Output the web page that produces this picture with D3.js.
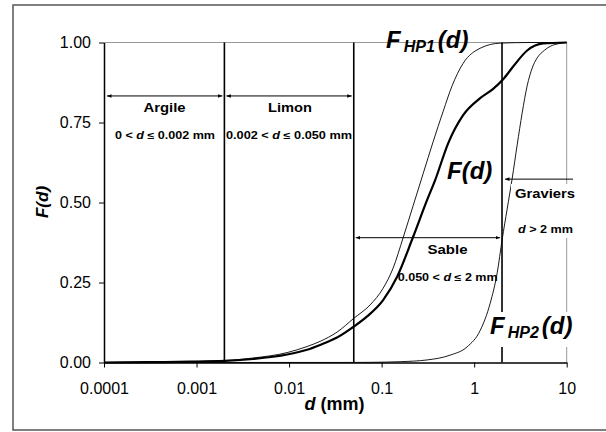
<!DOCTYPE html>
<html>
<head>
<meta charset="utf-8">
<script src="https://cdn.jsdelivr.net/npm/d3@7"></script>
<style>
  html, body { margin: 0; padding: 0; background: #fff; }
  svg { display: block; font-family: "Liberation Sans", Arial, sans-serif; }
</style>
</head>
<body>
<div id="chart"></div>
<script>
// ---- data ----
const xTicks = [0.0001, 0.001, 0.01, 0.1, 1, 10];
const xTickLabels = ["0.0001", "0.001", "0.01", "0.1", "1", "10"];
const yTicks = [0, 0.25, 0.5, 0.75, 1.0];
const yTickLabels = ["0.00", "0.25", "0.50", "0.75", "1.00"];

const classLimits = [0.002, 0.05, 2];

// F_HP1(d)
const hp1D = [0.0001, 0.000314, 0.00085, 0.002, 0.00408, 0.00952, 0.01565, 0.02163, 0.0330, 0.05, 0.0751, 0.1038, 0.1331, 0.1708, 0.2191, 0.2809, 0.3604, 0.4624, 0.5782, 0.7605, 1.161, 1.91, 4.03, 10];
const hp1F = [0, 0.001, 0.003, 0.006, 0.014, 0.031, 0.050, 0.066, 0.095, 0.138, 0.180, 0.232, 0.295, 0.390, 0.490, 0.590, 0.690, 0.785, 0.865, 0.935, 0.982, 0.998, 1.0, 1.0];

// F(d) measured
const fD = [0.0001, 0.000314, 0.00085, 0.002, 0.00408, 0.00952, 0.01565, 0.02163, 0.0330, 0.05, 0.0697, 0.1038, 0.1471, 0.2191, 0.3103, 0.3789, 0.5235, 0.7605, 1.161, 1.605, 2.059, 2.640, 3.741, 5.571, 10];
const fF = [0, 0.001, 0.0025, 0.005, 0.011, 0.025, 0.040, 0.055, 0.078, 0.112, 0.144, 0.195, 0.268, 0.393, 0.508, 0.570, 0.685, 0.773, 0.826, 0.855, 0.885, 0.925, 0.975, 0.997, 1.0];

// F_HP2(d)
const hp2D = [0.0001, 0.05, 0.0751, 0.1585, 0.3103, 0.5501, 0.84, 1.161, 1.489, 1.773, 2.008, 2.274, 2.575, 2.916, 3.303, 3.741, 4.236, 4.798, 5.712, 6.631, 8.09, 10];
const hp2F = [0, 0.0002, 0.0005, 0.0025, 0.008, 0.023, 0.049, 0.100, 0.185, 0.280, 0.385, 0.480, 0.575, 0.680, 0.780, 0.865, 0.920, 0.952, 0.975, 0.988, 0.996, 1.0];

// ---- layout ----
const W = 606, H = 432;
const plot = {left: 104, right: 566.7, top: 42.5, bottom: 362.5};

const svg = d3.select("#chart").append("svg").attr("width", W).attr("height", H);
svg.append("rect").attr("width", W).attr("height", H).attr("fill", "#fff");

// outer frame
svg.append("rect").attr("x", 13).attr("y", 5).attr("width", 620).attr("height", 425)
  .attr("fill", "none").attr("stroke", "#555").attr("stroke-width", 1.5);

const x = d3.scaleLog().domain([0.0001, 10]).range([plot.left, plot.right]);
const y = d3.scaleLinear().domain([0, 1]).range([plot.bottom, plot.top]);

// plot area gray top & right borders
svg.append("line").attr("x1", x(0.0001)).attr("x2", x(10)).attr("y1", y(1)).attr("y2", y(1))
  .attr("stroke", "#999").attr("stroke-width", 1);
svg.append("line").attr("x1", x(10)).attr("x2", x(10)).attr("y1", y(1)).attr("y2", y(0))
  .attr("stroke", "#999").attr("stroke-width", 1);

// class limit vertical lines
svg.selectAll("line.lim").data(classLimits).enter().append("line").attr("class", "lim")
  .attr("x1", d => x(d)).attr("x2", d => x(d)).attr("y1", y(1)).attr("y2", y(0))
  .attr("stroke", "#000").attr("stroke-width", 1.6);

// curves
const line = d3.line().x(d => x(d[0])).y(d => y(d[1])).curve(d3.curveMonotoneX);
const series = [
  {D: hp1D, F: hp1F, w: 0.9},
  {D: hp2D, F: hp2F, w: 0.9},
  {D: fD, F: fF, w: 2.2}
];
series.forEach(s => {
  svg.append("path").datum(s.D.map((d, i) => [d, s.F[i]]))
    .attr("d", line).attr("fill", "none").attr("stroke", "#000").attr("stroke-width", s.w);
});

// arrows
const defs = svg.append("defs");
defs.append("marker").attr("id", "ah").attr("viewBox", "0 0 10 10").attr("refX", 10).attr("refY", 5)
  .attr("markerWidth", 4.5).attr("markerHeight", 4.5).attr("orient", "auto-start-reverse")
  .append("path").attr("d", "M0,1 L10,5 L0,9 Z").attr("fill", "#000");

function arrow(x1, x2, yy, both) {
  const l = svg.append("line").attr("x1", x1).attr("x2", x2).attr("y1", yy).attr("y2", yy)
    .attr("stroke", "#000").attr("stroke-width", 1)
    .attr("marker-start", "url(#ah)");
  if (both) l.attr("marker-end", "url(#ah)");
}
arrow(x(0.0001) + 3, x(0.002) - 2, y(0.833), true);
arrow(x(0.002) + 2, x(0.05) - 2, y(0.833), true);
arrow(x(0.05) + 2, x(2) - 2, y(0.39), true);
arrow(x(2) + 3, 573, y(0.573), false);

// white label backgrounds (Graviers, F_HP2)
svg.append("rect").attr("x", 511).attr("y", 184).attr("width", 70).attr("height", 54).attr("fill", "#fff");
svg.append("rect").attr("x", 489).attr("y", 312).attr("width", 92).attr("height", 35).attr("fill", "#fff");

// class labels
function label(t, cx, cy, size, len) {
  svg.append("text").attr("x", cx).attr("y", cy).attr("text-anchor", "middle")
    .attr("dominant-baseline", "central").attr("font-weight", "bold").attr("font-size", size)
    .attr("textLength", len).attr("lengthAdjust", "spacingAndGlyphs").text(t);
}
function rangeLabel(parts, cx, cy, size, len) {
  const t = svg.append("text").attr("x", cx).attr("y", cy).attr("text-anchor", "middle")
    .attr("dominant-baseline", "central").attr("font-weight", "bold").attr("font-size", size)
    .attr("textLength", len).attr("lengthAdjust", "spacingAndGlyphs");
  parts.forEach(p => {
    const ts = t.append("tspan").text(p[0]);
    if (p[1]) ts.attr("font-style", "italic");
  });
}
label("Argile", 164.5, 108, 12.5, 42);
rangeLabel([["0 < "], ["d", 1], [" ≤ 0.002 mm"]], 165, 135, 10, 100);
label("Limon", 290, 108, 12.5, 44);
rangeLabel([["0.002 < "], ["d", 1], [" ≤ 0.050 mm"]], 289, 135, 10, 126);
label("Sable", 447.5, 250, 12.5, 40);
rangeLabel([["0.050 < "], ["d", 1], [" ≤ 2 mm"]], 447.7, 276.5, 10, 100);
label("Graviers", 545, 194, 12.5, 60);
rangeLabel([["d", 1], [" > 2 mm"]], 545.5, 229, 10, 55);

// big curve labels
function bigLabel(sub, xStart, base) {
  const t = svg.append("text").attr("x", xStart).attr("y", base)
    .attr("font-weight", "bold").attr("font-style", "italic").attr("font-size", 24);
  t.append("tspan").text("F");
  if (sub) {
    t.append("tspan").attr("font-size", 16).attr("dx", 3).attr("dy", 4).text(sub);
    t.append("tspan").attr("dx", 3).attr("dy", -4).text("(d)");
  } else {
    t.append("tspan").text("(d)");
  }
}
bigLabel("HP1", 386, 48);
bigLabel(null, 447, 179);
bigLabel("HP2", 490, 333.5);

// axes
const xAxis = d3.axisBottom(x).tickValues(xTicks).tickFormat((d, i) => xTickLabels[i]).tickSize(5).tickSizeOuter(0);
const gx = svg.append("g").attr("transform", `translate(0,${plot.bottom})`).call(xAxis);
gx.select(".domain").attr("stroke", "#000").attr("stroke-width", 1.5);
gx.selectAll(".tick line").attr("stroke", "#000").attr("stroke-width", 1);
gx.selectAll(".tick text").attr("font-size", 16).attr("font-family", "Liberation Sans, Arial, sans-serif").attr("dy", "1.47em");

const yAxis = d3.axisLeft(y).tickValues(yTicks).tickFormat((d, i) => yTickLabels[i]).tickSize(5).tickSizeOuter(0);
const gy = svg.append("g").attr("transform", `translate(${plot.left},0)`).call(yAxis);
gy.select(".domain").attr("stroke", "#000").attr("stroke-width", 1.5);
gy.selectAll(".tick line").attr("stroke", "#000").attr("stroke-width", 1);
gy.selectAll(".tick text").attr("font-size", 16).attr("font-family", "Liberation Sans, Arial, sans-serif").attr("x", -13);

// axis titles
svg.append("text").attr("transform", "translate(42,202) rotate(-90)").attr("text-anchor", "middle")
  .attr("dominant-baseline", "central").attr("font-weight", "bold").attr("font-style", "italic").attr("font-size", 17).text("F(d)");
const xt = svg.append("text").attr("x", 334.5).attr("y", 410).attr("text-anchor", "middle")
  .attr("font-weight", "bold").attr("font-size", 18);
xt.append("tspan").attr("font-style", "italic").text("d");
xt.append("tspan").text("  (mm)");
</script>
</body>
</html>
